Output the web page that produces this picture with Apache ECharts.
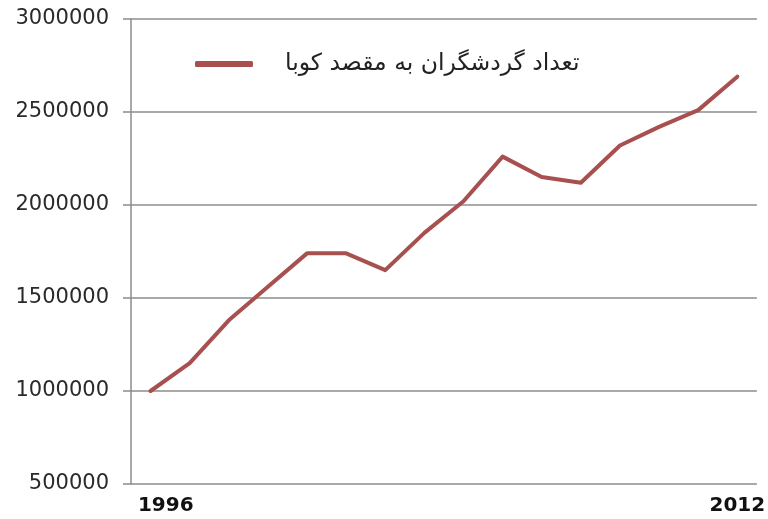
<!DOCTYPE html>
<html>
<head>
<meta charset="utf-8">
<script src="https://cdn.jsdelivr.net/npm/echarts@6/dist/echarts.min.js"></script>
<style>
html,body{margin:0;padding:0;background:#fff;}
#c{width:768px;height:519px;}
</style>
</head>
<body>
<div id="c"></div>
<script>
// Category tick labels (only the first and last are printed on the original)
var categories = ['1996','','','','','','','','','','','','','','','2012'];
// Number of tourists to Cuba
var seriesName = 'تعداد گردشگران به مقصد کوبا';
var visitors = [1000000,1150000,1380000,1560000,1740000,1740000,1650000,1850000,2020000,2260000,2150000,2120000,2320000,2420000,2510000,2690000];
// Y axis range/ticks
var yMin = 500000, yMax = 3000000, yStep = 500000;

var chart = echarts.init(document.getElementById('c'), null, {renderer:'canvas'});
var grey = '#8c8c8c';
chart.setOption({
  backgroundColor:'#fff',
  animation:false,
  grid:{left:131,right:7,top:19,bottom:35,containLabel:false},
  legend:{
    left:190, top:47,
    icon:'roundRect', itemWidth:58, itemHeight:6,
    textStyle:{fontFamily:'DejaVu Sans', fontSize:23.5, color:'#222', padding:[0,0,0,27]},
    data:[seriesName]
  },
  xAxis:{
    type:'category', data:categories, boundaryGap:true,
    axisLine:{show:false}, axisTick:{show:false},
    axisLabel:{
      interval:0, margin:12,
      fontFamily:'DejaVu Sans', fontWeight:'bold', fontSize:20, color:'#111',
      formatter:function(v,i){ if(i===0) return '{a|'+v+'}'; return v; },
      rich:{a:{width:86, align:'right', fontFamily:'DejaVu Sans', fontWeight:'bold', fontSize:20, color:'#111'}}
    },
    splitLine:{show:false}
  },
  yAxis:{
    type:'value', min:yMin, max:yMax, interval:yStep,
    axisLine:{show:true, lineStyle:{color:grey, width:1.5}},
    axisTick:{show:true, length:8, lineStyle:{color:grey, width:1.5}},
    axisLabel:{margin:22, fontFamily:'DejaVu Sans', fontSize:21, color:'#2a2a2a',
      formatter:function(v){ return String(v); }},
    splitLine:{show:true, lineStyle:{color:grey, width:1.5}}
  },
  series:[{
    name:seriesName, type:'line', data:visitors,
    showSymbol:false, symbol:'none',
    lineStyle:{color:'#a84f4f', width:4, cap:'round', join:'round'},
    itemStyle:{color:'#a84f4f'}
  }]
});
</script>
</body>
</html>
